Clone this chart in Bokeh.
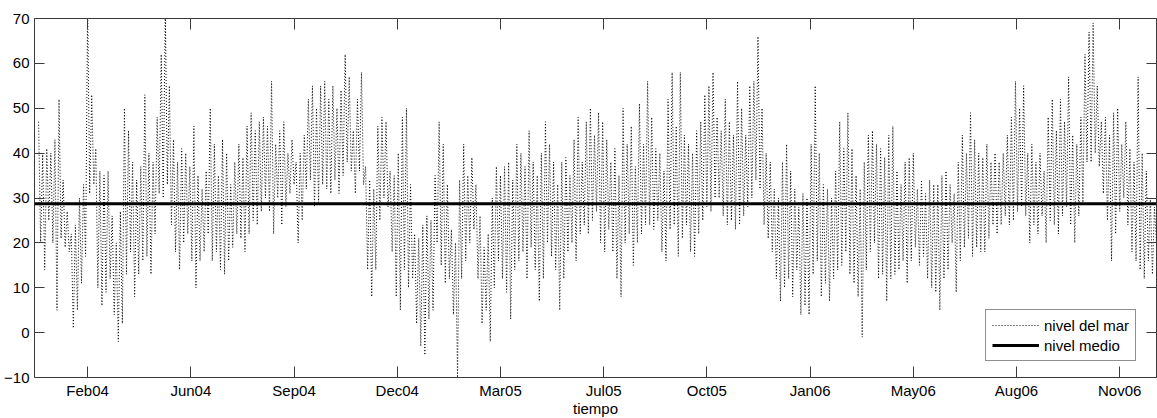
from bokeh.plotting import figure
from bokeh.models import LinearAxis, FixedTicker, Range1d, Legend, LegendItem, CustomJSTickFormatter
from bokeh.embed import file_html
from bokeh.resources import INLINE

# sample days (days since the left edge of the time axis), one high/low pair each
dias = list(range(4, 1097, 4))

altos = [47, 40, 41, 40, 43, 52, 34, 27, 22, 24, 30, 33, 73, 53, 41, 36, 35, 36, 26, 20,
         27, 50, 45, 38, 34, 37, 53, 40, 38, 48, 62, 72, 55, 43, 38, 41, 40, 37, 46, 35,
         32, 36, 50, 42, 35, 43, 40, 33, 38, 42, 39, 46, 49, 45, 47, 48, 46, 56, 42, 45,
         47, 40, 43, 38, 40, 44, 52, 55,
         50, 55, 56, 52, 55, 50, 54, 62, 57, 45, 52, 58, 37, 34, 32, 46, 48, 47, 36, 35,
         40, 48, 50, 33, 22, 21, 24, 26, 25, 35, 47, 42, 33, 23, 20, 34, 42, 35, 39, 33,
         26, 19, 22, 30, 37, 35, 37, 38, 34, 42, 40, 37, 45, 38, 35, 40, 47, 42, 38, 33,
         38, 39, 35, 43, 48, 38, 47, 50, 44,
         49, 47, 43, 38, 41, 35, 50, 42, 46, 37, 51, 42, 56, 48, 41, 40, 36, 52, 58, 46,
         58, 44, 42, 40, 45, 47, 53, 55, 58, 48, 45, 52, 47, 44, 56, 50, 44, 55, 56, 66,
         50, 40, 38, 32, 30, 38, 42, 36, 32, 28, 31, 30, 42, 55, 40, 33, 32, 30, 36, 47,
         41, 49, 41, 35, 32, 38, 44, 45,
         42, 41, 39, 44, 46, 36, 33, 38, 39, 40, 32, 34, 31, 34, 33, 33, 35, 36, 33, 31,
         38, 44, 40, 49, 43, 40, 39, 42, 38, 40, 38, 40, 44, 48, 56, 50, 55, 40, 42, 38,
         40, 36, 48, 52, 45, 52, 47, 57, 44, 42, 48, 62, 67, 69, 55, 47, 48, 44, 49, 50,
         42, 47, 41, 38, 57, 40, 36, 30, 28]

bajos = [20, 14, 25, 20, 5, 21, 19, 18, 1, 5, 11, 17, 31, 33, 10, 6, 9, 12, 4, -2,
         2, 13, 18, 8, 13, 16, 17, 13, 22, 31, 30, 33, 24, 18, 14, 20, 22, 16, 10, 16,
         18, 22, 16, 18, 14, 13, 16, 19, 22, 21, 18, 22, 25, 24, 27, 30, 27, 22, 30, 24,
         28, 31, 33, 20, 25, 32, 34, 28,
         29, 33, 32, 31, 34, 31, 35, 38, 36, 31, 36, 33, 14, 8, 14, 25, 30, 28, 18, 8,
         5, 14, 10, 12, 2, -3, -5, 3, 5, 20, 15, 11, 12, 4, -10, 12, 16, 20, 23, 12,
         2, 5, -2, 10, 16, 12, 9, 3, 14, 16, 18, 12, 19, 14, 7, 12, 20, 17, 14, 5,
         12, 18, 20, 16, 22, 24, 22, 25, 27,
         20, 18, 23, 18, 12, 8, 20, 22, 15, 20, 22, 24, 24, 23, 25, 18, 16, 23, 24, 17,
         21, 24, 18, 17, 22, 25, 28, 27, 30, 30, 26, 24, 25, 23, 24, 26, 28, 30, 34, 32,
         24, 21, 18, 12, 7, 10, 12, 8, 14, 4, 6, 4, 13, 16, 8, 11, 7, 12, 14, 15,
         18, 13, 11, 8, -1, 14, 18, 20,
         12, 13, 7, 12, 13, 14, 16, 11, 16, 19, 15, 17, 12, 10, 9, 5, 12, 14, 20, 9,
         16, 19, 21, 17, 19, 18, 18, 21, 24, 22, 24, 26, 24, 25, 27, 28, 26, 20, 24, 22,
         26, 20, 25, 24, 22, 26, 28, 24, 20, 26, 29, 38, 38, 40, 37, 31, 25, 16, 22, 27,
         30, 24, 18, 16, 14, 12, 16, 13, 20]

nivel_medio = 28.7
x_limites = [0, 1098]
y_limites = [-10, 70]
tick_dias = [52, 153, 254, 355, 456, 557, 658, 759, 860, 961, 1062]
tick_etiquetas = ["Feb04", "Jun04", "Sep04", "Dec04", "Mar05", "Jul05",
                  "Oct05", "Jan06", "May06", "Aug06", "Nov06"]
y_ticks = [-10, 0, 10, 20, 30, 40, 50, 60, 70]

# interleave highs and lows into one zig-zag series
xs, ys = [], []
for i, d in enumerate(dias):
    xs.append(d)
    ys.append(altos[i])
    xs.append(d + 2)
    ys.append(bajos[i])

FONT = "Liberation Sans"
FRAME = "#3a3a3a"

p = figure(frame_width=1122, frame_height=359,
           x_range=Range1d(*x_limites), y_range=Range1d(*y_limites),
           output_backend="svg", toolbar_location=None,
           min_border_left=34, min_border_right=1, min_border_top=18,
           min_border_bottom=41)
p.background_fill_color = "white"
p.border_fill_color = "white"
p.outline_line_color = FRAME
p.outline_line_width = 1
p.xgrid.visible = False
p.ygrid.visible = False

r1 = p.line(xs, ys, line_color="black", line_width=1, line_dash="1 2")
r2 = p.line(x_limites, [nivel_medio, nivel_medio], line_color="black", line_width=3)

xt = FixedTicker(ticks=tick_dias)
yt = FixedTicker(ticks=y_ticks)
overrides = {d: lab for d, lab in zip(tick_dias, tick_etiquetas)}

for ax in p.xaxis:
    ax.ticker = xt
    ax.major_label_overrides = overrides
    ax.axis_label = "tiempo"
for ax in p.yaxis:
    ax.ticker = yt

for ax in list(p.xaxis) + list(p.yaxis):
    ax.axis_line_color = None
    ax.major_tick_in = 11
    ax.major_tick_out = 0
    ax.major_tick_line_color = FRAME
    ax.minor_tick_line_color = None
    ax.major_label_text_font = FONT
    ax.major_label_text_font_size = "15px"
    ax.major_label_text_color = "black"
    ax.major_label_standoff = 5
    ax.axis_label_text_font = FONT
    ax.axis_label_text_font_size = "15px"
    ax.axis_label_text_font_style = "normal"
    ax.axis_label_text_color = "black"
for ax in p.xaxis:
    ax.major_label_standoff = 4
    ax.axis_label_standoff = -2
for ax in p.yaxis:
    ax.major_tick_in = 10

blank = CustomJSTickFormatter(code="return ''")
top = LinearAxis(ticker=xt, formatter=blank, major_label_standoff=0,
                 major_tick_in=11, major_tick_out=0, axis_line_color=None,
                 minor_tick_line_color=None, major_tick_line_color=FRAME)
right = LinearAxis(ticker=yt, formatter=blank, major_label_standoff=0,
                   major_tick_in=10, major_tick_out=0, axis_line_color=None,
                   minor_tick_line_color=None, major_tick_line_color=FRAME)
p.add_layout(top, "above")
p.add_layout(right, "right")

legend = Legend(items=[LegendItem(label="nivel del mar", renderers=[r1]),
                       LegendItem(label="nivel medio", renderers=[r2])],
                location=(951, 16))
legend.border_line_color = "#222222"
legend.border_line_width = 1
legend.background_fill_color = "white"
legend.background_fill_alpha = 1
legend.padding = 6
legend.spacing = 2
legend.margin = 0
legend.glyph_width = 47
legend.glyph_height = 18
legend.label_height = 18
legend.label_standoff = 5
legend.label_text_font = FONT
legend.label_text_font_size = "15px"
legend.label_text_color = "black"
p.add_layout(legend)

open("out.html", "w").write(file_html(p, INLINE))
